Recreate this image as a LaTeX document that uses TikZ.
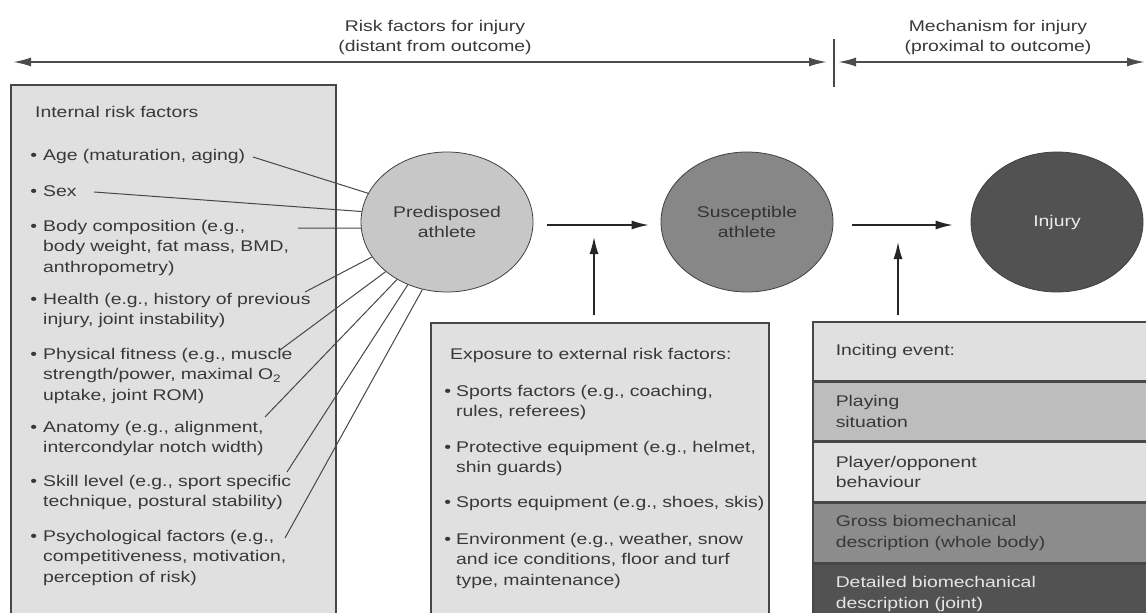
\documentclass[tikz,border=0pt]{standalone}
\usepackage{fontspec}
\setmainfont{Liberation Sans}[FakeStretch=1.25]
\usetikzlibrary{shapes.geometric,arrows.meta}
\definecolor{txtgray}{gray}{0.22}
\definecolor{linegray}{gray}{0.28}
\definecolor{boxfill}{gray}{0.88}
\definecolor{predfill}{gray}{0.78}
\definecolor{susfill}{gray}{0.53}
\definecolor{injfill}{gray}{0.32}
\definecolor{playfill}{gray}{0.74}
\definecolor{grossfill}{gray}{0.55}

\begin{document}
\begin{tikzpicture}[x=1pt, y=-1pt,
    every node/.style={font=\fontsize{15.5}{20.5}\selectfont, text=txtgray},
    panel/.style={draw=linegray, line width=1.5pt, fill=boxfill, anchor=north west, inner sep=0pt},
    item/.style={anchor=base west, inner sep=0pt, text width=360pt, align=left},
    athlete/.style={ellipse, draw=black!75, line width=0.8pt, minimum width=172pt, minimum height=140pt, inner sep=0pt, align=center},
    row/.style={draw=linegray, line width=1.5pt, anchor=north west, text width=300pt, inner xsep=23pt, inner ysep=0pt, align=left},
    arr/.style={-{Latex[length=17pt,width=9pt]}, line width=1.4pt, draw=black!85},
    dbl/.style={{Latex[length=18pt,width=9pt]}-{Latex[length=18pt,width=9pt]}, line width=2pt, draw=black!70},
    lin/.style={line width=1pt, draw=linegray}]
  \useasboundingbox (0,0) rectangle (1146,613);
  \clip (0,0) rectangle (1146,613);

  % Eje superior
  \coordinate (lend) at (13,62);
  \coordinate (div) at (834,62);
  \coordinate (rend) at (1145,62);
  \draw[dbl, shorten >=7pt] (lend) -- (div);
  \draw[dbl, shorten <=4pt] (div) -- (rend);
  \draw[line width=1.2pt, draw=linegray] ([yshift=23pt]div) -- ([yshift=-25pt]div);
  \node[text width=300pt, align=center, inner sep=0pt, anchor=base] (rtxt) at (435,31) {Risk factors for injury\\(distant from outcome)};
  \node[text width=300pt, align=center, inner sep=0pt, anchor=base] (mtxt) at (998,31) {Mechanism for injury\\(proximal to outcome)};

  % Factores internos
  \node[panel, minimum width=325pt, minimum height=540pt] (intbox) at (10,84) {};
  \node[item] (ttl) at (35,117) {Internal risk factors};
  \node[item] (f1) at (43,160) {\llap{\textbullet\hspace{6pt}}Age (maturation, aging)};
  \node[item] (f2) at (43,196) {\llap{\textbullet\hspace{6pt}}Sex};
  \node[item] (f3) at (43,231) {\llap{\textbullet\hspace{6pt}}Body composition (e.g.,\\body weight, fat mass, BMD,\\anthropometry)};
  \node[item] (f4) at (43,304) {\llap{\textbullet\hspace{6pt}}Health (e.g., history of previous\\injury, joint instability)};
  \node[item] (f5) at (43,359) {\llap{\textbullet\hspace{6pt}}Physical fitness (e.g., muscle\\strength/power, maximal O\textsubscript{2}\\uptake, joint ROM)};
  \node[item] (f6) at (43,432) {\llap{\textbullet\hspace{6pt}}Anatomy (e.g., alignment,\\intercondylar notch width)};
  \node[item] (f7) at (43,486) {\llap{\textbullet\hspace{6pt}}Skill level (e.g., sport specific\\technique, postural stability)};
  \node[item] (f8) at (43,541) {\llap{\textbullet\hspace{6pt}}Psychological factors (e.g.,\\competitiveness, motivation,\\perception of risk)};

  % Atletas
  \node[athlete, fill=predfill] (pre) at (447,222) {Predisposed\\athlete};
  \node[athlete, fill=susfill, text=black!80] (sus) at (747,222) {Susceptible\\athlete};
  \node[athlete, fill=injfill, text=white!92!black] (inj) at (1057,222) {Injury};
  \draw[arr, shorten <=14pt, shorten >=12pt] ([yshift=-3pt]pre.east) -- ([yshift=-3pt]sus.west);
  \draw[arr, shorten <=19pt, shorten >=18pt] ([yshift=-3pt]sus.east) -- ([yshift=-3pt]inj.west);

  % Factores externos
  \node[panel, minimum width=338pt, minimum height=300pt] (ext) at (430,322) {};
  \node[item] (etl) at (450,359) {Exposure to external risk factors:};
  \node[item] (e1) at (456,396) {\llap{\textbullet\hspace{5pt}}Sports factors (e.g., coaching,\\rules, referees)};
  \node[item] (e2) at (456,452) {\llap{\textbullet\hspace{5pt}}Protective equipment (e.g., helmet,\\shin guards)};
  \node[item] (e3) at (456,507) {\llap{\textbullet\hspace{5pt}}Sports equipment (e.g., shoes, skis)};
  \node[item] (e4) at (456,544) {\llap{\textbullet\hspace{5pt}}Environment (e.g., weather, snow\\and ice conditions, floor and turf\\type, maintenance)};
  \coordinate (m1) at (594,237);
  \draw[arr, shorten <=7pt] (ext.north -| m1) -- (m1);

  % Evento
  \node[row, fill=boxfill, minimum height=59pt] (inc) at (812,321) {Inciting event:};
  \node[row, fill=playfill, minimum height=58pt] (play) at (inc.south west) {Playing\\situation};
  \node[row, fill=boxfill, minimum height=60pt] (opp) at (play.south west) {Player/opponent\\behaviour};
  \node[row, fill=grossfill, minimum height=59pt] (gross) at (opp.south west) {Gross biomechanical\\description (whole body)};
  \node[row, fill=injfill, text=white!90!black, minimum height=60pt] (det) at (gross.south west) {Detailed biomechanical\\description (joint)};
  \coordinate (m2) at (898,242);
  \draw[arr, shorten <=6pt] (inc.north -| m2) -- (m2);

  % Conexiones
  \foreach \n/\x/\y/\a in {1/253/157/160, 2/94/192/173, 3/298/228/184, 4/305/292/205,
                            5/280/350/219, 6/265/417/229, 7/287/472/238, 8/285/538/250} {
    \coordinate (c\n) at (\x,\y);
    \draw[lin] (c\n) -- (pre.\a);
  }
\end{tikzpicture}
\end{document}
